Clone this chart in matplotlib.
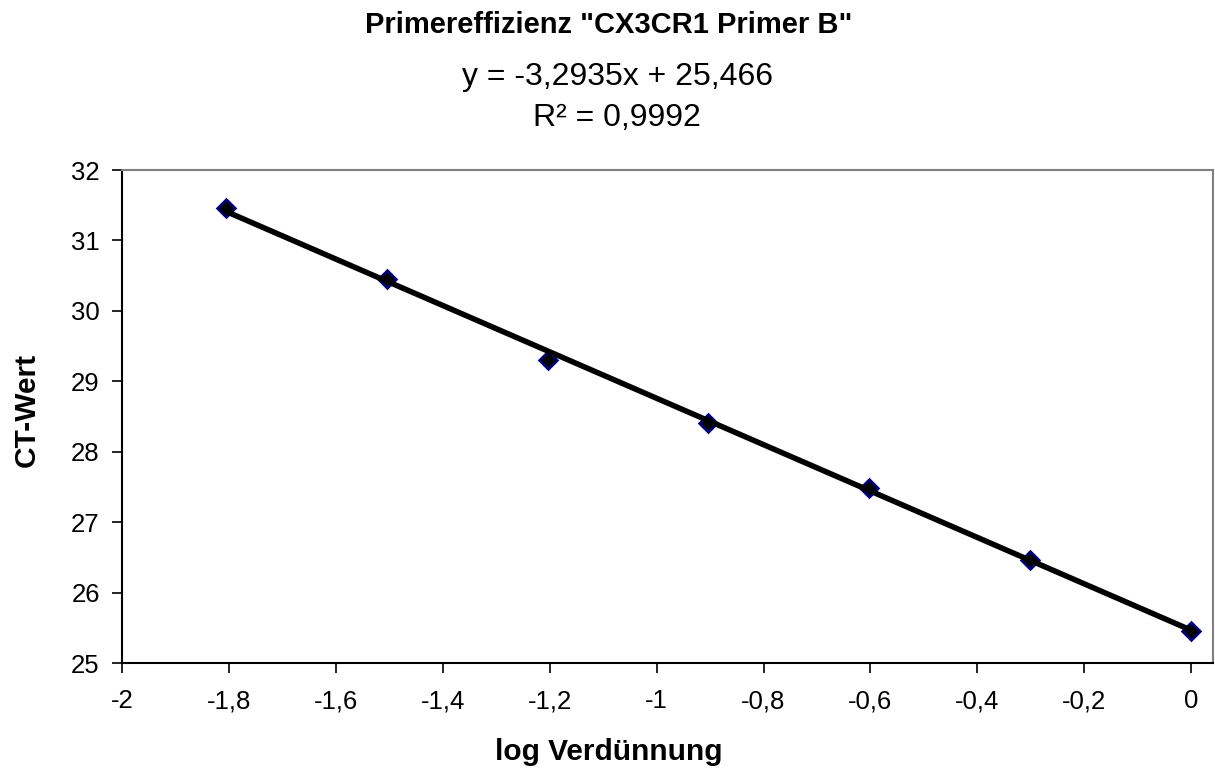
import numpy as np
import matplotlib.pyplot as plt

plt.rcParams['font.family'] = ['Liberation Sans', 'DejaVu Sans']

# log dilution and measured CT values
log_dil = [-1.806, -1.505, -1.204, -0.903, -0.602, -0.301, 0.0]
ct_wert = [31.46, 30.45, 29.30, 28.41, 27.49, 26.46, 25.45]

# trendline as shown in the chart
slope = -3.2935
intercept = 25.466
r2 = 0.9992

x_ticks = [-2, -1.8, -1.6, -1.4, -1.2, -1, -0.8, -0.6, -0.4, -0.2, 0]
x_labels = ['-2', '-1,8', '-1,6', '-1,4', '-1,2', '-1', '-0,8', '-0,6', '-0,4', '-0,2', '0']
y_ticks = [25, 26, 27, 28, 29, 30, 31, 32]

fig = plt.figure(figsize=(12.15, 7.71), dpi=100)
ax = fig.add_axes([0.1004, 0.140, 0.8976, 0.6395])

ax.plot(log_dil, ct_wert, linestyle='none', marker='D', markersize=9,
        markerfacecolor='black', markeredgecolor='#000080', markeredgewidth=1.8, zorder=2)

xl = np.array([min(log_dil), max(log_dil)])
ax.plot(xl, slope * xl + intercept, color='black', linewidth=4, zorder=3)

ax.set_xlim(-2, 0.04)
ax.set_ylim(25, 32)
ax.set_xticks(x_ticks)
ax.set_xticklabels(x_labels)
ax.set_yticks(y_ticks)
ax.tick_params(direction='out', length=7, width=1.2, labelsize=18.5, colors='black')
ax.tick_params(axis='y', pad=9)
ax.tick_params(axis='x', pad=12)

for s in ['top', 'right']:
    ax.spines[s].set_color('#808080')
    ax.spines[s].set_linewidth(1.5)
for s in ['left', 'bottom']:
    ax.spines[s].set_color('black')
    ax.spines[s].set_linewidth(1.5)

fig.text(0.501, 0.967, 'Primereffizienz "CX3CR1 Primer B"', ha='center', va='center',
         fontsize=21, fontweight='bold')
fig.text(0.508, 0.900, 'y = -3,2935x + 25,466', ha='center', va='center', fontsize=23)
fig.text(0.508, 0.847, 'R² = 0,9992', ha='center', va='center', fontsize=23)

fig.text(0.501, 0.024, 'log Verdünnung', ha='center', va='center', fontsize=21.5, fontweight='bold')
fig.text(0.022, 0.468, 'CT-Wert', ha='center', va='center', fontsize=21.5, fontweight='bold',
         rotation=90)

fig.savefig('out.png', dpi=100)
